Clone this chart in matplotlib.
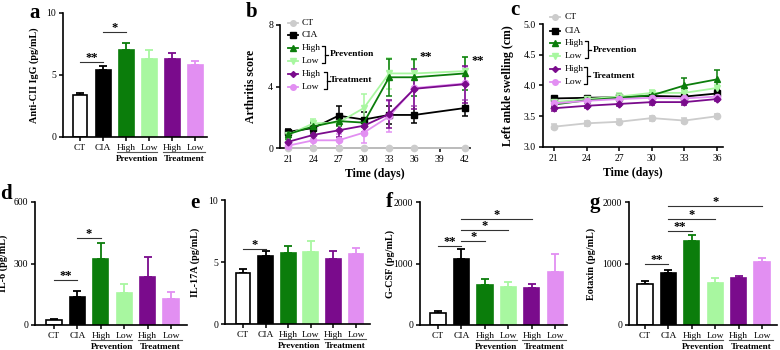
import matplotlib
matplotlib.use("Agg")
import matplotlib.pyplot as plt
from matplotlib.transforms import blended_transform_factory

plt.rcParams['font.family'] = ['Liberation Serif', 'DejaVu Serif']
plt.rcParams['axes.linewidth'] = 1.2

W, H = 780, 350

# ---------------- data ----------------
groups = ["CT", "CIA", "High", "Low", "High", "Low"]
group_labels = ["Prevention", "Treatment"]
colors = ["#ffffff", "#000000", "#0b7d0b", "#a8f7a0", "#7a0b8c", "#e28ff2"]
line_colors = ["#cccccc", "#000000", "#0b7d0b", "#a8f7a0", "#7a0b8c", "#e28ff2"]
markers = ["o", "s", "^", "v", "D", "o"]

igg = [3.4, 5.4, 7.0, 6.3, 6.3, 5.8]
igg_err = [0.15, 0.3, 0.6, 0.7, 0.5, 0.35]
il6 = [22, 135, 320, 155, 236, 127]
il6_err = [5, 30, 80, 45, 95, 33]
il17 = [4.09, 5.48, 5.7, 5.83, 5.22, 5.65]
il17_err = [0.35, 0.43, 0.58, 0.9, 0.67, 0.45]
gcsf = [200, 1073, 645, 612, 607, 867]
gcsf_err = [30, 160, 100, 80, 60, 290]
eotaxin = [667, 840, 1371, 688, 759, 1030]
eotaxin_err = [45, 55, 90, 70, 38, 55]

days_b = [21, 24, 27, 30, 33, 36, 42]
score = [
    [0, 0, 0, 0, 0, 0, 0],
    [1.05, 1.3, 2.1, 1.85, 2.15, 2.15, 2.6],
    [0.9, 1.4, 1.75, 1.65, 4.6, 4.6, 4.85],
    [0.85, 1.6, 1.65, 2.6, 4.85, 4.85, 5.0],
    [0.4, 0.85, 1.15, 1.45, 2.2, 3.85, 4.15],
    [0.15, 0.5, 0.5, 1.0, 2.05, 3.9, 4.2],
]
score_err = [
    [0, 0, 0, 0, 0, 0, 0],
    [0.2, 0.3, 0.6, 0.5, 0.6, 0.55, 0.5],
    [0.3, 0.3, 0.3, 0.3, 1.2, 1.2, 1.1],
    [0.3, 0.3, 0.5, 0.9, 1.0, 0.9, 0.9],
    [0.3, 0.4, 0.45, 0.4, 0.9, 1.3, 1.2],
    [0.15, 0.35, 0.4, 0.7, 1.0, 1.2, 1.1],
]

days_c = [21, 24, 27, 30, 33, 36]
swell = [
    [3.33, 3.385, 3.41, 3.47, 3.43, 3.50],
    [3.79, 3.80, 3.81, 3.83, 3.82, 3.87],
    [3.69, 3.76, 3.80, 3.84, 4.00, 4.10],
    [3.73, 3.78, 3.82, 3.88, 3.88, 3.96],
    [3.63, 3.67, 3.70, 3.73, 3.73, 3.78],
    [3.71, 3.75, 3.78, 3.80, 3.79, 3.82],
]
swell_err = [
    [0.04, 0.04, 0.04, 0.04, 0.04, 0.03],
    [0.03, 0.03, 0.03, 0.03, 0.04, 0.05],
    [0.04, 0.04, 0.04, 0.04, 0.13, 0.15],
    [0.05, 0.05, 0.05, 0.05, 0.05, 0.05],
    [0.04, 0.04, 0.04, 0.05, 0.04, 0.04],
    [0.04, 0.04, 0.04, 0.04, 0.04, 0.04],
]

fig = plt.figure(figsize=(7.8, 3.5), dpi=100)


def px_axes(x0, x1, ytop, ybot):
    return fig.add_axes([x0 / W, 1 - ybot / H, (x1 - x0) / W, (ybot - ytop) / H])


def fx(x):
    return x / W


def fy(y):
    return 1 - y / H


def style(ax):
    for s in ["top", "right"]:
        ax.spines[s].set_visible(False)
    ax.tick_params(direction="out", length=3, width=1.1, labelsize=7, pad=2)


def sig(ax, x1, x2, y, text):
    ax.plot([x1, x2], [y, y], color="#333333", lw=0.8, clip_on=False)
    ax.annotate(text, xy=((x1 + x2) / 2, y), xytext=(0, -1.5), textcoords="offset points",
                ha="center", va="bottom", fontsize=9, fontweight="bold", annotation_clip=False)


def bar_panel(ax, vals, errs, ylim, yticks, ylabel, xlim, label_x):
    style(ax)
    x = list(range(len(vals)))
    for i, (v, e) in enumerate(zip(vals, errs)):
        c = colors[i]
        ec = "#000000" if i == 0 else c
        ax.bar(i, v, width=0.65, color=c, edgecolor=ec, linewidth=1.2, zorder=2)
        ax.errorbar(i, v, yerr=[[0], [e]], color=ec, capsize=3, elinewidth=1.3,
                    capthick=1.3, zorder=1)
    ax.set_xlim(*xlim)
    ax.set_ylim(*ylim)
    ax.set_yticks(yticks)
    ax.set_xticks(x)
    ax.set_xticklabels(groups, fontsize=6.8)
    ax.set_ylabel(ylabel, fontsize=7.3, fontweight="bold")
    ax.yaxis.set_label_coords(label_x, 0.5)
    tr = blended_transform_factory(ax.transData, ax.transAxes)
    for (a, b), g in zip([(1.6, 3.35), (3.6, 5.45)], group_labels):
        ax.plot([a, b], [-0.12, -0.12], color="#555555", lw=0.8, transform=tr, clip_on=False)
        ax.text((a + b) / 2, -0.175, g, transform=tr, ha="center", va="center",
                fontsize=6.6, fontweight="bold")


# ---------- a ----------
ax_a = px_axes(63, 207, 13, 137)
bar_panel(ax_a, igg, igg_err, (0, 10), [0, 5, 10], "Anti-CII IgG (pg/mL)", (-0.74, 5.52), -0.17)
sig(ax_a, 0, 1, 6.05, "**")
sig(ax_a, 1, 2, 8.5, "*")

# ---------- d ----------
ax_d = px_axes(35, 187, 202, 325)
bar_panel(ax_d, il6, il6_err, (0, 600), [0, 300, 600], "IL-6 (pg/mL)", (-0.81, 5.68), -0.175)
sig(ax_d, 0, 1, 220, "**")
sig(ax_d, 1, 2, 426, "*")

# ---------- e ----------
ax_e = px_axes(225, 370, 200, 324)
bar_panel(ax_e, il17, il17_err, (0, 10), [0, 5, 10], "IL-17A (pg/mL)", (-0.8, 5.62), -0.17)
sig(ax_e, 0, 1, 6.07, "*")

# ---------- f ----------
ax_f = px_axes(420, 567, 202, 325)
bar_panel(ax_f, gcsf, gcsf_err, (0, 2000), [0, 1000, 2000], "G-CSF (pg/mL)", (-0.77, 5.5), -0.17)
sig(ax_f, 0, 1, 1285, "**")
sig(ax_f, 1, 2, 1366, "*")
sig(ax_f, 1, 3, 1545, "*")
sig(ax_f, 1, 4, 1718, "*")

# ---------- g ----------
ax_g = px_axes(629, 777, 202, 325)
bar_panel(ax_g, eotaxin, eotaxin_err, (0, 2000), [0, 1000, 2000], "Eotaxin (pg/mL)", (-0.68, 5.64), -0.22)
sig(ax_g, 0, 1, 987, "**")
sig(ax_g, 1, 2, 1533, "**")
sig(ax_g, 1, 3, 1728, "*")
sig(ax_g, 1, 5, 1935, "*")


def line_panel(ax, days, data, errs):
    style(ax)
    order = [0, 1, 3, 2, 5, 4]
    for i in order:
        ax.errorbar(days, data[i], yerr=errs[i], color=line_colors[i], marker=markers[i],
                    markersize=4.5 if markers[i] != "D" else 3.5, lw=1.3, elinewidth=1.1,
                    capsize=2.5, capthick=1.1, clip_on=False, zorder=3)


def legend(ax, x_line, x_text, ys, xb_p, xb_t, x_gtext):
    for i, y in enumerate(ys):
        ax.plot([fx(x_line - 5), fx(x_line + 5)], [fy(y), fy(y)], color=line_colors[i],
                lw=1.3, transform=fig.transFigure, clip_on=False)
        ax.plot([fx(x_line)], [fy(y)], marker=markers[i], color=line_colors[i],
                markersize=4 if markers[i] != "D" else 3, transform=fig.transFigure, clip_on=False)
        ax.text(fx(x_text), fy(y), groups[i], transform=fig.transFigure, fontsize=6.8,
                va="center", ha="left")
    for (y1, y2), xb, g in [((ys[2] - 2, ys[3] + 2), xb_p, group_labels[0]),
                            ((ys[4] - 2, ys[5] + 2), xb_t, group_labels[1])]:
        xs = [fx(xb - 3), fx(xb), fx(xb), fx(xb - 3)]
        yy = [fy(y1), fy(y1), fy(y2), fy(y2)]
        ax.plot(xs, yy, color="black", lw=0.9, transform=fig.transFigure, clip_on=False)
        ym = (y1 + y2) / 2
        ax.plot([fx(xb), fx(xb + 3)], [fy(ym), fy(ym)], color="black", lw=0.9,
                transform=fig.transFigure, clip_on=False)
        ax.text(fx(x_gtext), fy(ym), g, transform=fig.transFigure, fontsize=6.8,
                fontweight="bold", va="center", ha="left")


# ---------- b ----------
ax_b = px_axes(280, 470, 25, 148)
line_panel(ax_b, days_b, score, score_err)
ax_b.set_xlim(20.05, 42.6)
ax_b.set_ylim(0, 8)
ax_b.set_yticks([0, 4, 8])
ax_b.set_xticks([21, 24, 27, 30, 33, 36, 39, 42])
ax_b.set_xlabel("Time (days)", fontsize=8.5, fontweight="bold", labelpad=3)
ax_b.set_ylabel("Arthritis score", fontsize=8.5, fontweight="bold")
ax_b.yaxis.set_label_coords(-0.12, 0.5)
ax_b.text(37.3, 5.9, "**", fontsize=9, fontweight="bold", ha="center", va="center")
ax_b.text(43.5, 5.65, "**", fontsize=9, fontweight="bold", ha="center", va="center", clip_on=False)
legend(ax_b, 293, 302, [23, 35, 48, 61, 74, 87], 325, 327, 330)

# ---------- c ----------
ax_c = px_axes(543, 723, 24, 147)
line_panel(ax_c, days_c, swell, swell_err)
ax_c.set_xlim(20.0, 36.55)
ax_c.set_ylim(3.0, 5.0)
ax_c.set_yticks([3.0, 3.5, 4.0, 4.5, 5.0])
ax_c.set_yticklabels(["3.0", "3.5", "4.0", "4.5", "5.0"])
ax_c.set_xticks(days_c)
ax_c.set_xlabel("Time (days)", fontsize=8.5, fontweight="bold", labelpad=3)
ax_c.set_ylabel("Left ankle swelling (cm)", fontsize=8.5, fontweight="bold")
ax_c.yaxis.set_label_coords(-0.16, 0.5)
legend(ax_c, 555, 565, [17, 31, 43, 56, 69, 82], 588, 587, 593)

# ---------- panel letters ----------
for letter, x, y in [("a", 29, 13), ("b", 246, 12), ("c", 510, 10), ("d", 0, 194),
                     ("e", 190, 203), ("f", 386, 202), ("g", 590, 203)]:
    fig.text(fx(x), fy(y), letter, fontsize=15, fontweight="bold", ha="left", va="center")

fig.savefig("out.png", dpi=100)
